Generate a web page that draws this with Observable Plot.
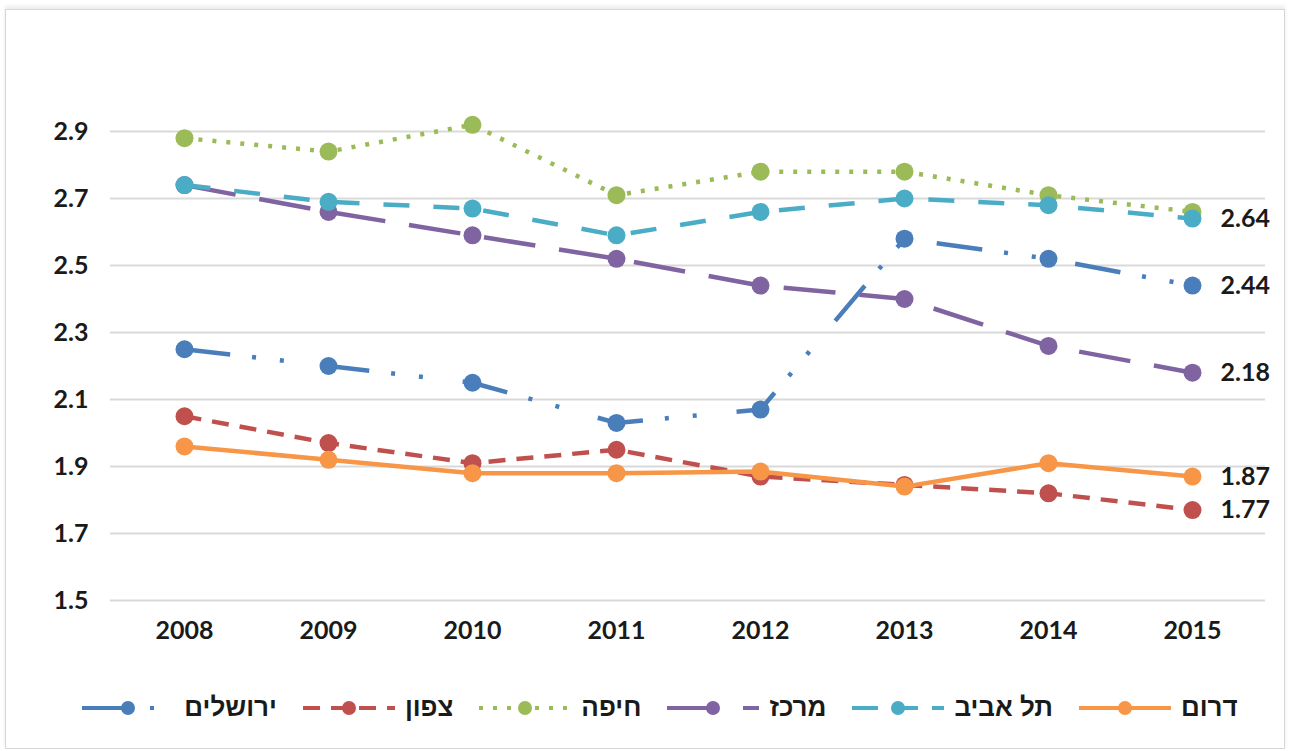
<!DOCTYPE html>
<html>
<head>
<meta charset="utf-8">
<script src="https://cdn.jsdelivr.net/npm/d3@7"></script>
<script src="https://cdn.jsdelivr.net/npm/@observablehq/plot@0.6"></script>
<style>
  html, body { margin: 0; padding: 0; background: #fff; }
  #wrap { position: relative; width: 1292px; height: 751px; overflow: hidden; background: #fff; }
  #frame { position: absolute; left: 5px; top: 9px; width: 1278px; height: 738px; border: 1px solid #d6d6d6; box-shadow: 0 -3px 4px rgba(0,0,0,0.08); pointer-events: none; }
  #chart { position: absolute; left: 0; top: 0; }
  #legend { position: absolute; left: 28px; top: 692px; width: 1264px; display: flex; direction: rtl; justify-content: center; align-items: center; gap: 26px;
    font-family: "Liberation Sans", Arial, sans-serif; font-weight: bold; font-size: 26px; color: #1a1a1a; }
  .item { display: flex; align-items: center; gap: 10px; }
  .item svg { display: block; }
</style>
</head>
<body>
<div id="wrap">
  <div id="chart"></div>
  <div id="legend"></div>
  <div id="frame"></div>
</div>
<script>
// ---- data ----
const years = ["2008", "2009", "2010", "2011", "2012", "2013", "2014", "2015"];
const yTicks = [1.5, 1.7, 1.9, 2.1, 2.3, 2.5, 2.7, 2.9];

const seriesNames = ["ירושלים", "צפון", "חיפה", "מרכז", "תל אביב", "דרום"];
const jerusalem = [2.25, 2.20, 2.15, 2.03, 2.07, 2.58, 2.52, 2.44];
const tzafon    = [2.05, 1.97, 1.91, 1.95, 1.87, 1.845, 1.82, 1.77];
const haifa     = [2.88, 2.84, 2.92, 2.71, 2.78, 2.78, 2.71, 2.66];
const merkaz    = [2.74, 2.66, 2.59, 2.52, 2.44, 2.40, 2.26, 2.18];
const telaviv   = [2.74, 2.69, 2.67, 2.59, 2.66, 2.70, 2.68, 2.64];
const darom     = [1.96, 1.92, 1.88, 1.88, 1.885, 1.84, 1.91, 1.87];
const labeledSeries = ["תל אביב", "ירושלים", "מרכז", "דרום", "צפון"];
const labelTexts = {"תל אביב": "2.64", "ירושלים": "2.44", "מרכז": "2.18", "דרום": "1.87", "צפון": "1.77"};

// ---- styles ----
const seriesValues = [jerusalem, tzafon, haifa, merkaz, telaviv, darom];
const colors = ["#4A7EBB", "#C0504D", "#9BBB59", "#8064A2", "#4BACC6", "#F79646"];
const dashes = ["46,22,4,24,4,40", "17,11", "4,10", "52,24", "26,24", null];
const legendDashes = ["46,22,4,24,4,40", "17,11", "4,10", "52,24", "26,14", null];

const rows = seriesNames.flatMap((name, s) =>
  years.map((year, i) => ({series: name, year, value: seriesValues[s][i]})));

const marks = [
  Plot.gridY(yTicks, {stroke: "#d9d9d9", strokeOpacity: 1, strokeWidth: 2}),
  Plot.axisY(yTicks, {tickSize: 0, tickPadding: 22, tickFormat: d => d.toFixed(1)}),
  Plot.axisX({tickSize: 0, tickPadding: 21})
];
seriesNames.forEach((name, s) => {
  const d = rows.filter(r => r.series === name);
  marks.push(Plot.line(d, {x: "year", y: "value", stroke: colors[s], strokeWidth: 4.5,
    strokeDasharray: dashes[s] || undefined, strokeLinecap: "butt", strokeLinejoin: "round"}));
  marks.push(Plot.dot(d, {x: "year", y: "value", r: 9, fill: colors[s], stroke: "none"}));
});
const lastRows = rows.filter(r => r.year === years[years.length - 1] && labeledSeries.includes(r.series));
marks.push(Plot.text(lastRows, {x: "year", y: "value", text: d => labelTexts[d.series], textAnchor: "start", dx: 28, fill: "#1a1a1a"}));

const chart = Plot.plot({
  width: 1292,
  height: 660,
  marginTop: 131,
  marginBottom: 60,
  marginLeft: 110,
  marginRight: 27,
  x: {type: "point", domain: years, padding: 0.5, label: null},
  y: {domain: [1.5, 2.9], label: null},
  style: {fontFamily: "Lato, 'Liberation Sans', sans-serif", fontSize: "25px", fontWeight: "bold", color: "#1a1a1a", background: "transparent"},
  marks
});
document.getElementById("chart").appendChild(chart);

// ---- legend ----
const legend = document.getElementById("legend");
const ns = "http://www.w3.org/2000/svg";
seriesNames.slice().reverse().forEach(name => {
  const s = seriesNames.indexOf(name);
  const item = document.createElement("div");
  item.className = "item";
  const label = document.createElement("span");
  label.textContent = name;
  item.appendChild(label);
  const svg = document.createElementNS(ns, "svg");
  svg.setAttribute("width", 92);
  svg.setAttribute("height", 20);
  const ln = document.createElementNS(ns, "line");
  ln.setAttribute("x1", 0); ln.setAttribute("x2", 92);
  ln.setAttribute("y1", 10); ln.setAttribute("y2", 10);
  ln.setAttribute("stroke", colors[s]);
  ln.setAttribute("stroke-width", 4);
  if (legendDashes[s]) ln.setAttribute("stroke-dasharray", legendDashes[s]);
  svg.appendChild(ln);
  const c = document.createElementNS(ns, "circle");
  c.setAttribute("cx", 46); c.setAttribute("cy", 10); c.setAttribute("r", 7);
  c.setAttribute("fill", colors[s]);
  svg.appendChild(c);
  item.appendChild(svg);
  legend.appendChild(item);
});
</script>
</body>
</html>
